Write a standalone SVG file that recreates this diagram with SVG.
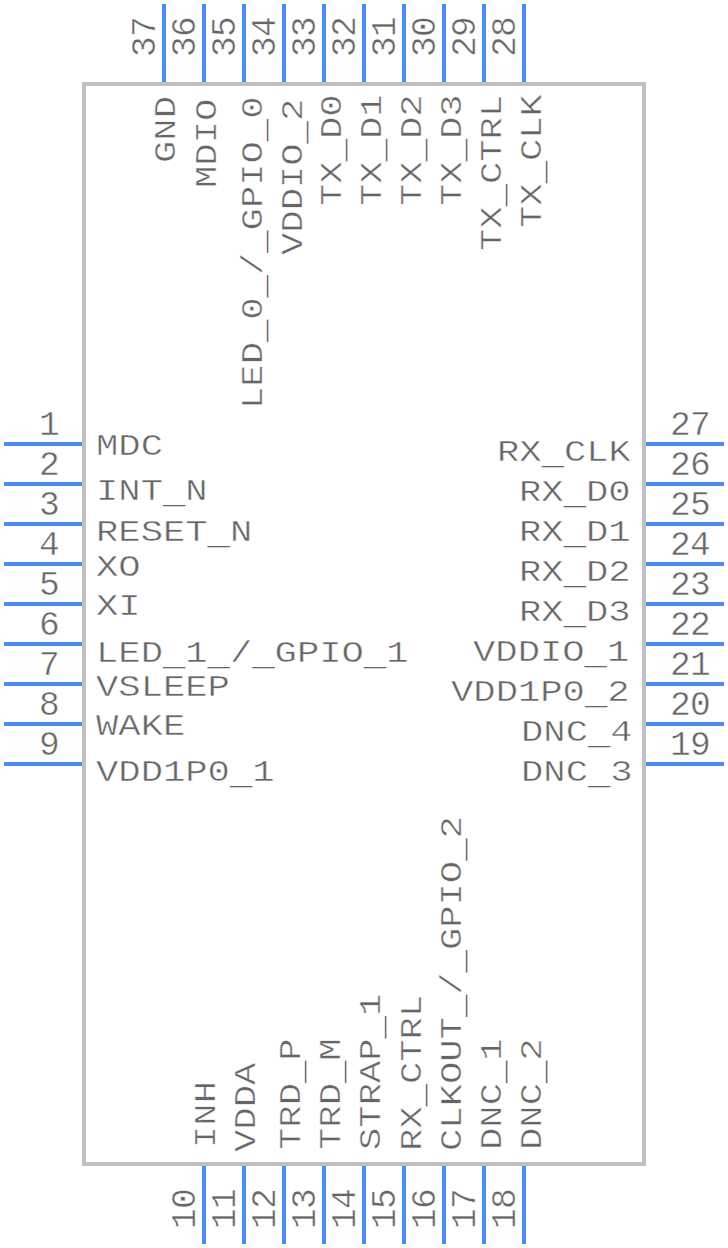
<svg xmlns="http://www.w3.org/2000/svg" width="728" height="1248" viewBox="0 0 728 1248">
<style>
text{font-family:"Liberation Mono",monospace;fill:#666666;stroke:#ffffff;stroke-width:.45px}
.n{font-size:34.5px;letter-spacing:-.7px;text-anchor:middle}
.l{font-size:30px}
.u{baseline-shift:-3px;stroke:none}
.pin{stroke:#4a8cf5;stroke-width:4;fill:none}
.box{stroke:#c0c0c0;stroke-width:4;fill:#ffffff}
</style>
<rect width="728" height="1248" fill="#ffffff"/>
<g id="body"><rect class="box" x="84" y="84" width="560" height="1080"/></g>
<g id="connectors">
<path class="pin" d="M4 444H82M4 484H82M4 524H82M4 564H82M4 604H82M4 644H82M4 684H82M4 724H82M4 764H82"/>
<path class="pin" d="M646 444H724M646 484H724M646 524H724M646 564H724M646 604H724M646 644H724M646 684H724M646 724H724M646 764H724"/>
<path class="pin" d="M164 4V82M204 4V82M244 4V82M284 4V82M324 4V82M364 4V82M404 4V82M444 4V82M484 4V82M524 4V82"/>
<path class="pin" d="M204 1166V1244M244 1166V1244M284 1166V1244M324 1166V1244M364 1166V1244M404 1166V1244M444 1166V1244M484 1166V1244M524 1166V1244"/>
</g>
<g id="pin-numbers">
<text class="n" x="49" y="435">1</text><text class="n" x="49" y="475">2</text><text class="n" x="49" y="515">3</text><text class="n" x="49" y="555">4</text><text class="n" x="49" y="595">5</text><text class="n" x="49" y="635">6</text><text class="n" x="49" y="675">7</text><text class="n" x="49" y="715">8</text><text class="n" x="49" y="755">9</text>
<text class="n" x="690" y="435">27</text><text class="n" x="690" y="475">26</text><text class="n" x="690" y="515">25</text><text class="n" x="690" y="555">24</text><text class="n" x="690" y="595">23</text><text class="n" x="690" y="635">22</text><text class="n" x="690" y="675">21</text><text class="n" x="690" y="715">20</text><text class="n" x="690" y="755">19</text>
<text class="n" transform="translate(155 37) rotate(-90)">37</text><text class="n" transform="translate(195 37) rotate(-90)">36</text><text class="n" transform="translate(235 37) rotate(-90)">35</text><text class="n" transform="translate(275 37) rotate(-90)">34</text><text class="n" transform="translate(315 37) rotate(-90)">33</text><text class="n" transform="translate(355 37) rotate(-90)">32</text><text class="n" transform="translate(395 37) rotate(-90)">31</text><text class="n" transform="translate(435 37) rotate(-90)">30</text><text class="n" transform="translate(475 37) rotate(-90)">29</text><text class="n" transform="translate(515 37) rotate(-90)">28</text>
<text class="n" transform="translate(195 1209) rotate(-90)">10</text><text class="n" transform="translate(235 1209) rotate(-90)">11</text><text class="n" transform="translate(275 1209) rotate(-90)">12</text><text class="n" transform="translate(315 1209) rotate(-90)">13</text><text class="n" transform="translate(355 1209) rotate(-90)">14</text><text class="n" transform="translate(395 1209) rotate(-90)">15</text><text class="n" transform="translate(435 1209) rotate(-90)">16</text><text class="n" transform="translate(475 1209) rotate(-90)">17</text><text class="n" transform="translate(515 1209) rotate(-90)">18</text>
</g>
<g id="left-labels">
<text class="l" transform="translate(96 455) scale(1.24 1)">MDC</text>
<text class="l" transform="translate(96 500) scale(1.24 1)">INT<tspan class="u">_</tspan>N</text>
<text class="l" transform="translate(96 541) scale(1.24 1)">RESET<tspan class="u">_</tspan>N</text>
<text class="l" transform="translate(96 576) scale(1.24 1)">XO</text>
<text class="l" transform="translate(96 615) scale(1.24 1)">XI</text>
<text class="l" transform="translate(96 662) scale(1.24 1)">LED<tspan class="u">_</tspan>1<tspan class="u">_</tspan>/<tspan class="u">_</tspan>GPIO<tspan class="u">_</tspan>1</text>
<text class="l" transform="translate(96 696) scale(1.24 1)">VSLEEP</text>
<text class="l" transform="translate(96 735) scale(1.24 1)">WAKE</text>
<text class="l" transform="translate(96 781) scale(1.24 1)">VDD1P0<tspan class="u">_</tspan>1</text>
</g>
<g id="right-labels">
<text class="l" transform="translate(497 461) scale(1.24 1)">RX<tspan class="u">_</tspan>CLK</text>
<text class="l" transform="translate(519 501) scale(1.24 1)">RX<tspan class="u">_</tspan>D0</text>
<text class="l" transform="translate(519 541) scale(1.24 1)">RX<tspan class="u">_</tspan>D1</text>
<text class="l" transform="translate(519 581) scale(1.24 1)">RX<tspan class="u">_</tspan>D2</text>
<text class="l" transform="translate(519 621) scale(1.24 1)">RX<tspan class="u">_</tspan>D3</text>
<text class="l" transform="translate(473 661) scale(1.24 1)">VDDIO<tspan class="u">_</tspan>1</text>
<text class="l" transform="translate(451 701) scale(1.24 1)">VDD1P0<tspan class="u">_</tspan>2</text>
<text class="l" transform="translate(521 741) scale(1.24 1)">DNC<tspan class="u">_</tspan>4</text>
<text class="l" transform="translate(521 781) scale(1.24 1)">DNC<tspan class="u">_</tspan>3</text>
</g>
<g id="top-labels">
<text class="l" transform="translate(175 163) rotate(-90) scale(1.24 1)">GND</text>
<text class="l" transform="translate(216 188) rotate(-90) scale(1.24 1)">MDIO</text>
<text class="l" transform="translate(262 409) rotate(-90) scale(1.24 1)">LED<tspan class="u">_</tspan>0<tspan class="u">_</tspan>/<tspan class="u">_</tspan>GPIO<tspan class="u">_</tspan>0</text>
<text class="l" transform="translate(302 255) rotate(-90) scale(1.24 1)">VDDIO<tspan class="u">_</tspan>2</text>
<text class="l" transform="translate(341 206) rotate(-90) scale(1.24 1)">TX<tspan class="u">_</tspan>D0</text>
<text class="l" transform="translate(381 206) rotate(-90) scale(1.24 1)">TX<tspan class="u">_</tspan>D1</text>
<text class="l" transform="translate(421 206) rotate(-90) scale(1.24 1)">TX<tspan class="u">_</tspan>D2</text>
<text class="l" transform="translate(461 206) rotate(-90) scale(1.24 1)">TX<tspan class="u">_</tspan>D3</text>
<text class="l" transform="translate(501 251) rotate(-90) scale(1.24 1)">TX<tspan class="u">_</tspan>CTRL</text>
<text class="l" transform="translate(541 228) rotate(-90) scale(1.24 1)">TX<tspan class="u">_</tspan>CLK</text>
</g>
<g id="bottom-labels">
<text class="l" transform="translate(215 1148) rotate(-90) scale(1.24 1)">INH</text>
<text class="l" transform="translate(255 1152) rotate(-90) scale(1.24 1)">VDDA</text>
<text class="l" transform="translate(300 1150) rotate(-90) scale(1.24 1)">TRD<tspan class="u">_</tspan>P</text>
<text class="l" transform="translate(340 1150) rotate(-90) scale(1.24 1)">TRD<tspan class="u">_</tspan>M</text>
<text class="l" transform="translate(380 1150) rotate(-90) scale(1.24 1)">STRAP<tspan class="u">_</tspan>1</text>
<text class="l" transform="translate(421 1151) rotate(-90) scale(1.24 1)">RX<tspan class="u">_</tspan>CTRL</text>
<text class="l" transform="translate(461 1151) rotate(-90) scale(1.24 1)">CLKOUT<tspan class="u">_</tspan>/<tspan class="u">_</tspan>GPIO<tspan class="u">_</tspan>2</text>
<text class="l" transform="translate(501 1150) rotate(-90) scale(1.24 1)">DNC<tspan class="u">_</tspan>1</text>
<text class="l" transform="translate(541 1150) rotate(-90) scale(1.24 1)">DNC<tspan class="u">_</tspan>2</text>
</g>
</svg>
